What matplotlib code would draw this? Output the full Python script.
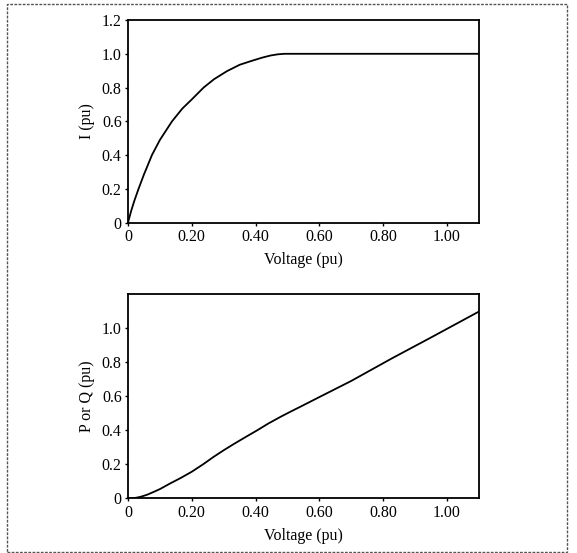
import matplotlib
matplotlib.use("Agg")
import matplotlib.pyplot as plt
from matplotlib.patches import Rectangle

# current vs voltage
v_i = [0, 0.01, 0.02, 0.033, 0.05, 0.075, 0.10, 0.138, 0.17, 0.20, 0.237, 0.27,
       0.31, 0.35, 0.384, 0.42, 0.447, 0.47, 0.49, 1.1]
i_pu = [0, 0.07, 0.13, 0.20, 0.285, 0.40, 0.49, 0.60, 0.675, 0.73, 0.80, 0.85,
        0.897, 0.935, 0.956, 0.977, 0.99, 0.997, 1.0, 1.0]

# power vs voltage
v_p = [0, 0.02, 0.04, 0.06, 0.08, 0.10, 0.132, 0.165, 0.20, 0.235, 0.269, 0.30,
       0.332, 0.37, 0.405, 0.44, 0.479, 0.51, 0.542, 0.605, 0.70, 0.825, 0.95, 1.1]
p_pu = [0, 0.002, 0.01, 0.022, 0.038, 0.055, 0.088, 0.12, 0.157, 0.20, 0.245, 0.283,
        0.32, 0.362, 0.40, 0.44, 0.48, 0.51, 0.54, 0.60, 0.69, 0.82, 0.945, 1.097]

x_ticks = [0, 0.2, 0.4, 0.6, 0.8, 1.0]
x_ticklabels = ["0", "0.20", "0.40", "0.60", "0.80", "1.00"]
top_yticks = [0, 0.2, 0.4, 0.6, 0.8, 1.0, 1.2]
top_yticklabels = ["0", "0.2", "0.4", "0.6", "0.8", "1.0", "1.2"]
bot_yticks = [0, 0.2, 0.4, 0.6, 0.8, 1.0]
bot_yticklabels = ["0", "0.2", "0.4", "0.6", "0.8", "1.0"]

plt.rcParams["font.family"] = ["Liberation Serif", "DejaVu Serif"]

fig = plt.figure(figsize=(5.77, 5.53), dpi=100)
fig.patches.append(Rectangle((7 / 577, 1 / 553), 560 / 577, 548 / 553,
                             transform=fig.transFigure, fill=False,
                             edgecolor="#555555", linewidth=1.0, linestyle=(0, (2, 1))))

ax1 = fig.add_axes([0.2218, 0.5973, 0.6083, 0.3665])
ax2 = fig.add_axes([0.2218, 0.0986, 0.6083, 0.3698])


def style(ax, yticks, yticklabels, ylabel):
    ax.set_xlim(0, 1.1)
    ax.set_ylim(0, 1.2)
    ax.set_xticks(x_ticks)
    ax.set_xticklabels(x_ticklabels)
    ax.set_yticks(yticks)
    ax.set_yticklabels(yticklabels)
    ax.tick_params(direction="out", length=2.5, width=1.0, labelsize=11.5, pad=2)
    for s in ax.spines.values():
        s.set_linewidth(1.3)
    ax.set_xlabel("Voltage (pu)", fontsize=11.5, labelpad=5)
    ax.set_ylabel(ylabel, fontsize=11.5, labelpad=5)


ax1.plot(v_i, i_pu, color="black", linewidth=1.3)
style(ax1, top_yticks, top_yticklabels, "I (pu)")

ax2.plot(v_p, p_pu, color="black", linewidth=1.3)
style(ax2, bot_yticks, bot_yticklabels, "P or Q (pu)")

fig.savefig("out.png", dpi=100)
